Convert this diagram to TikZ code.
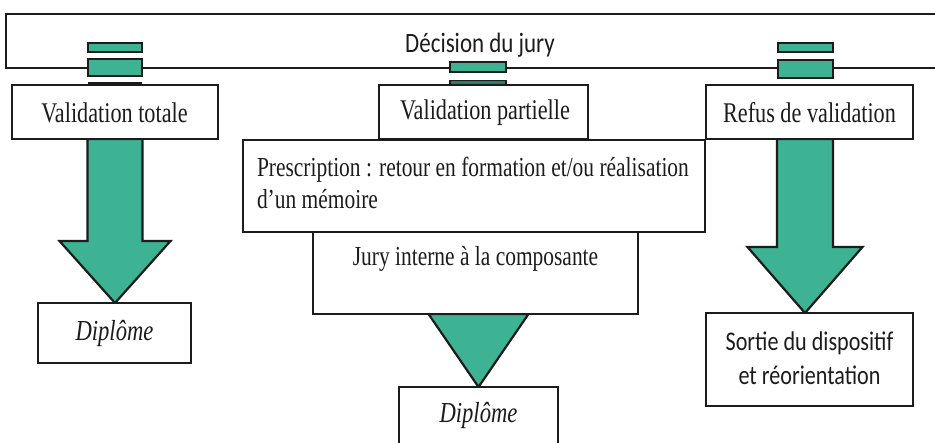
\documentclass[tikz,border=0pt]{standalone}
\usepackage{fontspec}
\setmainfont{Liberation Serif}
\newfontfamily\calib{Carlito}
\usepackage{graphicx}
\usetikzlibrary{calc}
\definecolor{tealA}{RGB}{61,179,147}
\definecolor{tealB}{RGB}{38,128,104}
\definecolor{ink}{RGB}{28,28,28}
\newcommand\sq[1]{\scalebox{0.78}[1]{#1}}
\newcommand\sqs[1]{\scalebox{0.82}[1]{#1}}
\pgfdeclarelayer{paper}
\pgfdeclarelayer{back}
\pgfsetlayers{paper,back,main}
\begin{document}
\begin{tikzpicture}[x=1pt,y=-1pt,
  box/.style={draw=ink, line width=2.2pt, fill=white, inner sep=0pt, outer sep=0pt},
  txt/.style={inner sep=0pt, outer sep=0pt, text=ink},
  serifA/.style={font=\fontsize{28.5}{34}\selectfont},
  serifB/.style={font=\fontsize{27.5}{32}\selectfont},
  italD/.style={font=\fontsize{29}{34}\selectfont\itshape},
  sansA/.style={font=\calib\fontsize{28}{34}\selectfont},
  sansB/.style={font=\calib\fontsize{27}{34}\selectfont},
  tab/.style={fill=tealA, draw=ink, line width=1.6pt},
  arr/.style={fill=tealA, draw=ink, line width=2.2pt, line join=miter},
  bigarrow/.style n args={3}{to path={let \p1=(\tikztostart), \p2=(\tikztotarget) in
    (\x1-#1pt,\y1) -- (\x1-#1pt,\y2+#3pt) -- (\x1-#2pt,\y2+#3pt) -- (\x1,\y2)
    -- (\x1+#2pt,\y2+#3pt) -- (\x1+#1pt,\y2+#3pt) -- (\x1+#1pt,\y1) -- cycle}},
  bighead/.style={to path={let \p1=(\tikztostart), \p2=(\tikztotarget) in
    (\x2-#1pt,\y1) -- (\x2,\y2) -- (\x2+#1pt,\y1) -- cycle}}
]
\useasboundingbox (0,0) rectangle (935,443);
\begin{pgfonlayer}{paper}
\fill[white] (0,0) rectangle (935,443);
\end{pgfonlayer}
\clip (0,0) rectangle (935,443);

% top bar
\node[box, minimum width=939pt, minimum height=54pt] (bar) at (475.5,41) {};
\node[txt, sansA] (bartxt) at (480,45) {\sqs{Décision du jury}};

% small tabs
\filldraw[tab] (88,43) rectangle (142,52);
\filldraw[tab] (88,59) rectangle (142,76);
\draw[ink, line width=2pt] (88,83) -- (142,83);
\filldraw[tab] (778,43) rectangle (833,52);
\filldraw[tab] (778,60) rectangle (833,78);
\filldraw[tab] (450,62) rectangle (506,72);
\filldraw[tab, fill=tealB] (450,80.5) rectangle (506,85.5);

% first row of boxes
\node[box, minimum width=206pt, minimum height=54pt] (vt) at (115,112) {};
\node[txt, serifA] (vttxt) at (114.5,113) {\sq{Validation totale}};
\node[box, minimum width=209pt, minimum height=54pt] (vp) at (483.5,112) {};
\node[txt, serifA] (vptxt) at (485,113) {\sq{Validation partielle}};
\node[box, minimum width=207pt, minimum height=54pt] (rv) at (809.5,112) {};
\node[txt, serifA] (rvtxt) at (809.5,113) {\sq{Refus de validation}};

% left and right outcomes
\node[box, minimum width=153pt, minimum height=60pt] (d1) at (114.5,333) {};
\node[txt, italD] (d1txt) at (114.5,334) {\sq{Diplôme}};
\node[box, minimum width=207pt, minimum height=93pt] (so) at (809.5,359.5) {};
\node[txt, sansB] (sotxt) at (809.5,360.5)
  {\sqs{\begin{tabular}{@{}c@{}}Sortie du dispositif\\et réorientation\end{tabular}}};
\begin{pgfonlayer}{back}
\draw[arr, bigarrow={27.5}{55.5}{62}] (vt.south) to (d1.north);
\draw[arr, bigarrow={28}{57.5}{66}] ([xshift=-4.5pt]rv.south) to (so.north);
\end{pgfonlayer}

% middle column
\node[box, minimum width=462pt, minimum height=92pt] (pr) at (474,186) {};
\node[txt, serifB, anchor=west] (prtxt) at (257,186)
  {\sq{\begin{tabular}{@{}l@{}}Prescription : retour en formation et/ou réalisation\\d’un mémoire\end{tabular}}};
\node[box, minimum width=325pt, minimum height=82pt] (ji) at (475.5,273) {};
\node[txt, serifB] (jitxt) at (475.5,259) {\sq{Jury interne à la composante}};
\node[box, minimum width=159pt, minimum height=73pt] (d2) at (478.5,423.5) {};
\node[txt, italD] (d2txt) at (478.5,416) {\sq{Diplôme}};
\begin{pgfonlayer}{back}
\draw[arr, bighead=50] (ji.south) to (d2.north);
\end{pgfonlayer}
\end{tikzpicture}
\end{document}
